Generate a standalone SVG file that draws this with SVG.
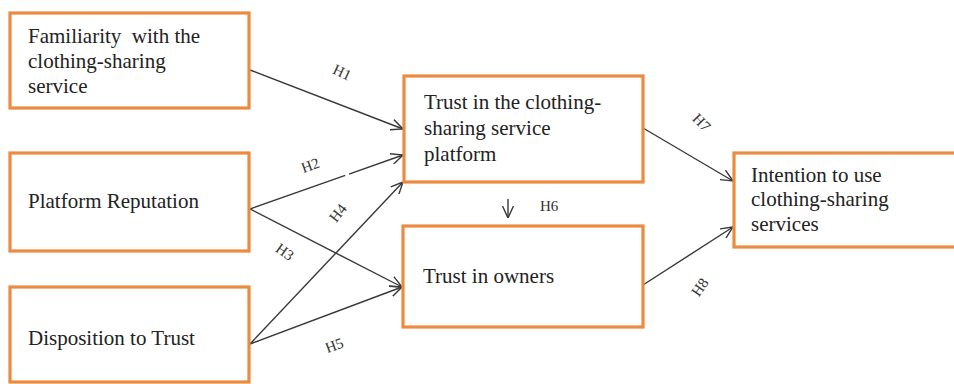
<svg xmlns="http://www.w3.org/2000/svg" width="954" height="384" viewBox="0 0 954 384">
<defs>
<style>
.box{fill:#ffffff;stroke:#EC8A3F;stroke-width:3.2}
.t{font-family:"Liberation Serif","Times New Roman",serif;font-size:21px;fill:#222222;white-space:pre}
.h{font-family:"Liberation Serif","Times New Roman",serif;font-size:15px;fill:#333333}
.c{fill:none;stroke:#383838;stroke-width:1.4}
</style>
<marker id="ah" viewBox="0 0 12 12" refX="12" refY="6" markerWidth="12" markerHeight="12" markerUnits="userSpaceOnUse" orient="auto">
<path d="M0,0.5 L12,6 L0,11.5" fill="none" stroke="#383838" stroke-width="1.4"/>
</marker>
</defs>
<rect width="954" height="384" fill="#ffffff"/>

<g id="connectors">
<path class="c" d="M250,70 L403,129" marker-end="url(#ah)"/>
<path class="c" d="M250,209 L403,155" marker-end="url(#ah)" stroke-dasharray="101 4 200"/>
<path class="c" d="M250,209 L402,287" marker-end="url(#ah)"/>
<path class="c" d="M250,344 L403,182" marker-end="url(#ah)"/>
<path class="c" d="M250,344 L402,287" marker-end="url(#ah)"/>
<path class="c" d="M643,128 L733,181" marker-end="url(#ah)"/>
<path class="c" d="M643,285 L733,227" marker-end="url(#ah)"/>
<path class="c" d="M508,199 L508,218" marker-end="url(#ah)"/>
<text class="h" transform="translate(340,77) rotate(25)" text-anchor="middle">H1</text>
<text class="h" transform="translate(312,170) rotate(-20)" text-anchor="middle">H2</text>
<text class="h" transform="translate(282,256) rotate(35)" text-anchor="middle">H3</text>
<text class="h" transform="translate(342,216) rotate(-52)" text-anchor="middle">H4</text>
<text class="h" transform="translate(336,350) rotate(-20)" text-anchor="middle">H5</text>
<text class="h" x="540" y="211" font-size="13">H6</text>
<text class="h" transform="translate(698,126) rotate(45)" text-anchor="middle">H7</text>
<text class="h" transform="translate(704,290) rotate(-55)" text-anchor="middle">H8</text>
</g>

<g id="familiarity">
<rect class="box" x="10" y="13" width="239" height="95"/>
<text class="t" x="28" y="43" xml:space="preserve">Familiarity  with the</text>
<text class="t" x="28" y="68">clothing-sharing</text>
<text class="t" x="28" y="93">service</text>
</g>

<g id="reputation">
<rect class="box" x="10" y="153" width="239" height="98"/>
<text class="t" x="28" y="208">Platform Reputation</text>
</g>

<g id="disposition">
<rect class="box" x="10" y="287" width="239" height="95"/>
<text class="t" x="28" y="345">Disposition to Trust</text>
</g>

<g id="trust-platform">
<rect class="box" x="404" y="76" width="239" height="106"/>
<text class="t" x="424" y="109">Trust in the clothing-</text>
<text class="t" x="424" y="135">sharing service</text>
<text class="t" x="424" y="161">platform</text>
</g>

<g id="trust-owners">
<rect class="box" x="403" y="226" width="240" height="101"/>
<text class="t" x="423" y="283">Trust in owners</text>
</g>

<g id="intention">
<rect class="box" x="734" y="153" width="222" height="94"/>
<text class="t" x="751" y="182">Intention to use</text>
<text class="t" x="751" y="206">clothing-sharing</text>
<text class="t" x="751" y="231">services</text>
</g>
</svg>
